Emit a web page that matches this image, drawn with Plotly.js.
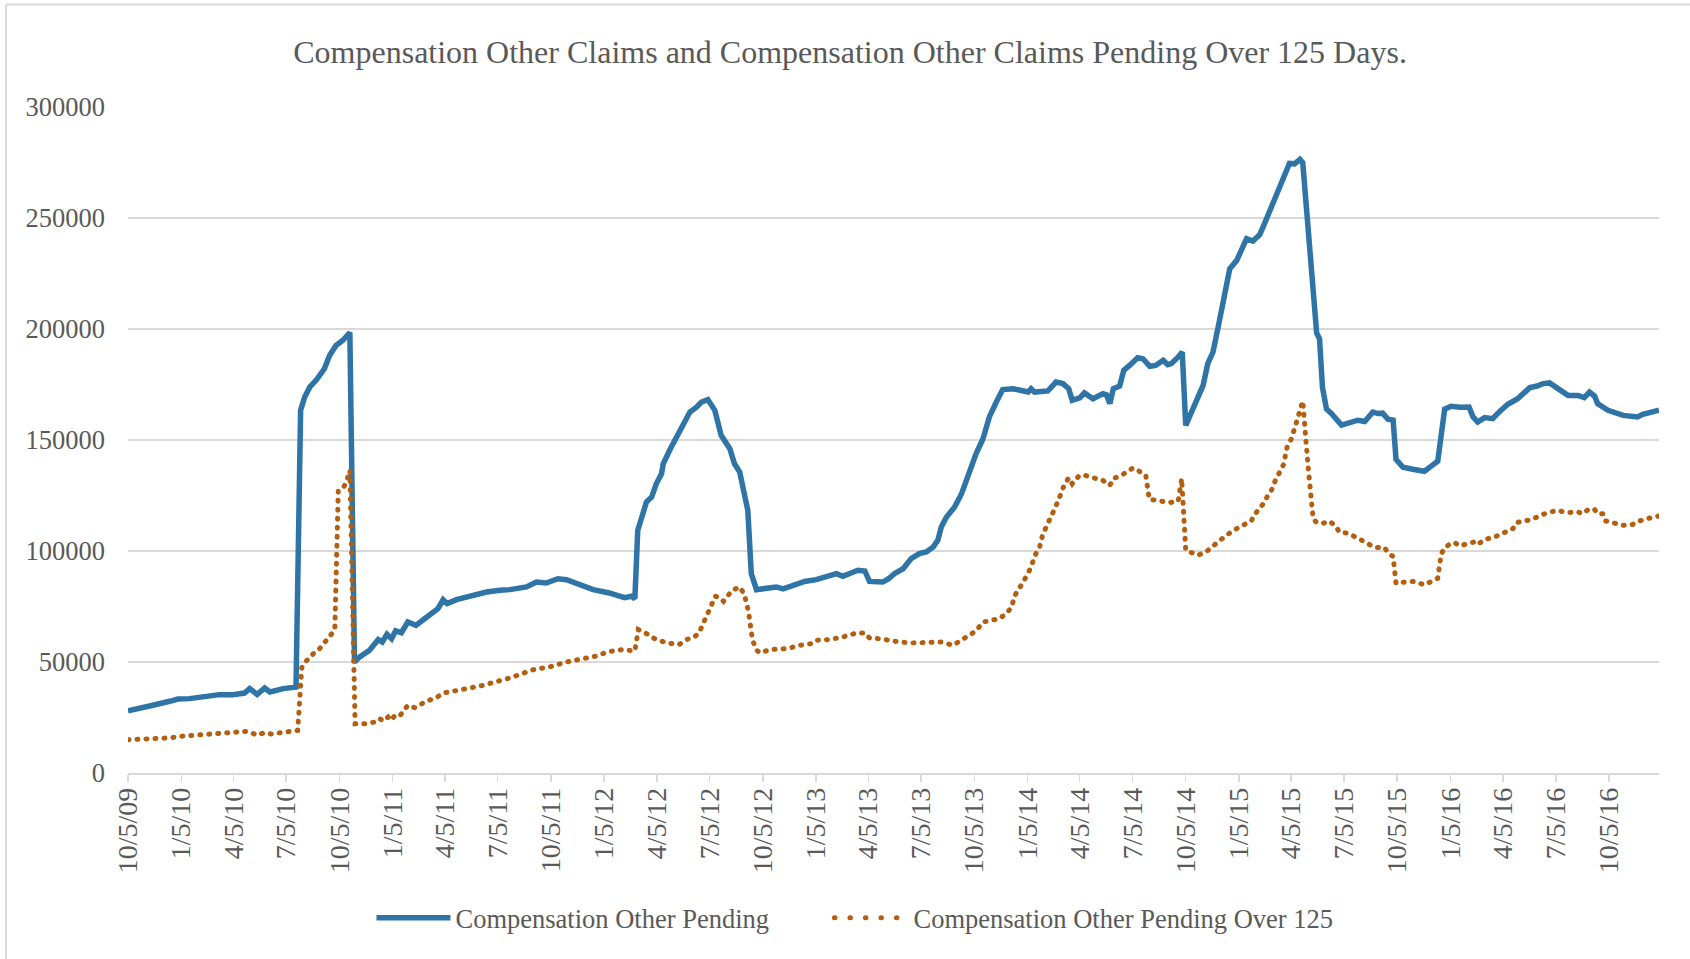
<!DOCTYPE html>
<html>
<head>
<meta charset="utf-8">
<script src="https://cdn.plot.ly/plotly-3.0.1.min.js"></script>
<style>
  html, body { margin: 0; padding: 0; background: #ffffff; }
  #chart { width: 1690px; height: 959px; }
</style>
</head>
<body>
<div id="chart"></div>
<script>
const chartTitle = 'Compensation Other Claims and Compensation Other Claims Pending Over 125 Days.';
const seriesNames = ['Compensation Other Pending', 'Compensation Other Pending Over 125'];

const pendingDates = [
'2009-10-05','2009-10-25','2009-11-17','2009-12-16','2009-12-30',
'2010-01-19','2010-02-11','2010-03-12','2010-04-04','2010-04-24',
'2010-05-03','2010-05-16','2010-05-29','2010-06-07','2010-06-30',
'2010-07-22','2010-07-30','2010-08-06','2010-08-15','2010-08-26',
'2010-09-09','2010-09-18','2010-09-29','2010-10-11','2010-10-23',
'2010-10-31','2010-11-09','2010-11-26','2010-12-11','2010-12-18',
'2010-12-26','2011-01-03','2011-01-10','2011-01-20','2011-01-31',
'2011-02-14','2011-03-01','2011-03-24','2011-04-02','2011-04-09',
'2011-04-25','2011-05-18','2011-06-16','2011-07-09','2011-07-26',
'2011-08-24','2011-09-10','2011-09-27','2011-10-17','2011-11-01',
'2011-11-24','2011-12-17','2012-01-14','2012-02-09','2012-02-21',
'2012-02-27','2012-03-03','2012-03-09','2012-03-18','2012-03-27',
'2012-04-04','2012-04-13','2012-04-16','2012-04-27','2012-05-09',
'2012-05-20','2012-06-01','2012-06-12','2012-06-21','2012-07-02',
'2012-07-14','2012-07-25','2012-08-09','2012-08-17','2012-08-26',
'2012-09-09','2012-09-15','2012-09-24','2012-10-11','2012-10-28',
'2012-11-09','2012-12-02','2012-12-16','2013-01-05','2013-01-23',
'2013-02-09','2013-02-20','2013-03-18','2013-03-30','2013-04-07',
'2013-04-30','2013-05-10','2013-05-20','2013-06-04','2013-06-18',
'2013-07-02','2013-07-14','2013-07-26','2013-08-03','2013-08-09',
'2013-08-18','2013-09-01','2013-09-13','2013-09-24','2013-10-08',
'2013-10-20','2013-10-31','2013-11-12','2013-11-23','2013-12-11',
'2013-12-28','2014-01-06','2014-01-11','2014-01-17','2014-02-09',
'2014-02-23','2014-03-07','2014-03-17','2014-03-23','2014-04-05',
'2014-04-13','2014-04-28','2014-05-15','2014-05-21','2014-05-27',
'2014-06-02','2014-06-13','2014-06-20','2014-06-30','2014-07-14',
'2014-07-23','2014-08-04','2014-08-14','2014-08-27','2014-09-04',
'2014-09-10','2014-09-22','2014-09-29','2014-10-05','2014-10-15',
'2014-10-26','2014-11-04','2014-11-12','2014-11-21','2014-11-30',
'2014-12-11','2014-12-20','2015-01-01','2015-01-09','2015-01-18',
'2015-01-29','2015-02-10','2015-02-18','2015-03-01','2015-03-13',
'2015-03-22','2015-04-02','2015-04-11','2015-04-20','2015-04-25',
'2015-05-04','2015-05-13','2015-05-19','2015-05-24','2015-05-29',
'2015-06-05','2015-06-13','2015-07-01','2015-07-15','2015-07-29',
'2015-08-10','2015-08-24','2015-09-02','2015-09-10','2015-09-19',
'2015-09-28','2015-10-03','2015-10-15','2015-11-01','2015-11-21',
'2015-11-30','2015-12-14','2015-12-26','2016-01-06','2016-01-21',
'2016-02-06','2016-02-13','2016-02-21','2016-03-04','2016-03-18',
'2016-03-30','2016-04-13','2016-04-30','2016-05-21','2016-06-01',
'2016-06-13','2016-06-24','2016-07-06','2016-07-17','2016-07-26',
'2016-08-12','2016-08-23','2016-09-01','2016-09-10','2016-09-15',
'2016-09-24','2016-10-03','2016-10-29','2016-11-23','2016-12-02',
'2016-12-17','2016-12-30'
];
const pendingValues = [
28000,29400,30500,32300,33300,
33500,34500,35300,35300,36000,
38000,35400,38300,36500,38000,
38700,163400,169400,173900,177000,
182100,188100,192600,194900,198400,
50000,52300,55300,60100,59000,
62500,60500,64000,63200,68000,
66500,69500,74000,78100,76300,
78100,79700,81500,82300,82600,
83800,86000,85600,87500,87100,
85000,82600,81100,79000,79600,
78500,109300,115300,122100,124300,
130300,134800,139300,145400,151400,
157400,162600,164700,167100,168200,
163400,152100,146100,139300,135600,
118300,89800,82600,83000,83800,
82900,84800,86300,87100,88300,
89800,88600,91300,91000,86300,
86000,87500,89800,92000,96600,
98800,99600,101800,104800,110800,
115300,119800,125800,134100,143800,
150600,160400,167100,172700,173100,
172400,171600,173100,171600,172100,
176100,175400,173100,167900,169000,
171200,168600,170900,170400,166400,
173100,174300,181400,183600,187100,
186600,183200,183600,185900,183900,
184400,187400,189600,156600,162600,
167900,174600,184400,189600,200900,
214400,227200,230900,236200,240700,
239600,242600,247500,254500,261400,
268600,274600,274400,276400,274900,
244200,217200,198200,195500,173800,
163900,162100,156700,157600,158900,
158300,162600,161900,162100,159400,
159000,141300,137700,136800,135900,
137700,140400,163900,165200,164800,
164900,160400,158100,160100,159600,
162900,166100,168600,173600,174200,
175400,175700,173600,172100,170100,
170100,169100,171600,169700,166400,
165200,163400,161100,160400,161600,
162300,163400
];

const over125Dates = [
'2009-10-05','2009-11-17','2009-12-16','2010-01-02','2010-02-11',
'2010-03-12','2010-04-10','2010-04-30','2010-05-16','2010-05-29',
'2010-06-09','2010-06-30','2010-07-25','2010-08-01','2010-08-08',
'2010-08-15','2010-08-21','2010-08-29','2010-09-09','2010-09-22',
'2010-09-27','2010-10-03','2010-10-11','2010-10-17','2010-10-23',
'2010-11-01','2010-11-20','2010-12-05','2010-12-13','2010-12-20',
'2010-12-28','2011-01-02','2011-01-10','2011-01-18','2011-01-31',
'2011-02-12','2011-03-04','2011-03-21','2011-04-02','2011-04-25',
'2011-05-18','2011-06-10','2011-07-03','2011-07-26','2011-09-04',
'2011-10-03','2011-11-01','2011-11-29','2011-12-28','2012-01-09',
'2012-02-06','2012-02-27','2012-03-04','2012-03-18','2012-04-01',
'2012-04-21','2012-05-13','2012-05-26','2012-06-01','2012-06-09',
'2012-06-17','2012-06-25','2012-07-02','2012-07-08','2012-07-15',
'2012-07-22','2012-07-29','2012-08-06','2012-08-13','2012-08-26',
'2012-09-03','2012-09-10','2012-09-17','2012-09-24','2012-10-01',
'2012-10-17','2012-11-15','2012-12-08','2012-12-28','2013-01-05',
'2013-01-28','2013-02-20','2013-03-16','2013-03-30','2013-04-07',
'2013-04-24','2013-05-12','2013-05-29','2013-06-21','2013-07-14',
'2013-08-09','2013-08-29','2013-09-13','2013-09-24','2013-10-08',
'2013-10-20','2013-11-03','2013-11-17','2013-11-29','2013-12-08',
'2013-12-14','2013-12-22','2013-12-29','2014-01-06','2014-01-11',
'2014-01-17','2014-01-26','2014-01-31','2014-02-09','2014-02-17',
'2014-02-23','2014-03-02','2014-03-09','2014-03-17','2014-03-23',
'2014-03-30','2014-04-05','2014-04-13','2014-04-28','2014-05-15',
'2014-05-27','2014-06-02','2014-06-16','2014-06-24','2014-07-06',
'2014-07-17','2014-07-28','2014-08-03','2014-08-21','2014-09-07',
'2014-09-22','2014-09-28','2014-10-05','2014-10-12','2014-10-26',
'2014-11-09','2014-11-26','2014-12-14','2015-01-01','2015-01-11',
'2015-01-26','2015-02-01','2015-02-10','2015-02-18','2015-02-22',
'2015-03-02','2015-03-08','2015-03-16','2015-03-23','2015-03-29',
'2015-04-05','2015-04-12','2015-04-19','2015-04-25','2015-05-04',
'2015-05-13','2015-05-19','2015-05-30','2015-06-10','2015-06-21',
'2015-06-27','2015-07-12','2015-07-29','2015-08-12','2015-08-27',
'2015-09-13','2015-09-19','2015-09-28','2015-10-03','2015-10-15',
'2015-11-01','2015-11-21','2015-12-03','2015-12-14','2015-12-20',
'2015-12-26','2016-01-04','2016-01-12','2016-01-21','2016-02-01',
'2016-02-15','2016-02-21','2016-03-04','2016-03-18','2016-03-30',
'2016-04-10','2016-04-22','2016-04-28','2016-05-15','2016-05-26',
'2016-06-04','2016-06-21','2016-07-08','2016-07-23','2016-08-12',
'2016-08-20','2016-09-01','2016-09-10','2016-09-15','2016-09-24',
'2016-09-29','2016-10-11','2016-10-29','2016-11-14','2016-11-26',
'2016-12-10','2016-12-30'
];
const over125Values = [
15000,15300,15800,16500,17300,
17700,18000,18800,17000,18200,
17600,18200,19200,47500,50300,
52000,53800,55100,59000,62800,
64300,127000,128100,131100,136300,
22200,22200,23000,24500,23400,
25200,23700,26300,26000,30500,
29400,32300,33900,36000,36900,
38300,39500,41000,42800,46500,
47800,50000,51500,53000,54500,
55600,55000,64600,62800,60500,
58700,57800,60100,60800,61300,
63300,68000,71800,76300,79600,
79000,77300,80000,82300,83800,
80500,73000,60000,55300,54100,
55600,56000,57500,58300,59800,
60100,61300,63100,63100,60800,
60500,59500,59000,58600,58600,
59000,57500,59800,62000,64000,
68000,68800,69500,71800,74500,
80000,83000,86300,90100,92800,
97600,102100,107400,112000,116100,
120300,124800,129600,133000,130300,
132600,134100,134100,132900,131800,
129600,132600,134100,135600,137400,
135900,134100,123300,122500,121800,
122500,132600,100300,99600,98100,
99600,103300,107100,110100,111600,
113500,116400,119200,122000,124200,
127300,131400,135900,139000,146800,
150400,156100,162100,167500,138600,
114500,112800,112500,113400,111200,
108500,108000,105800,104000,101600,
101600,99300,97500,85400,85900,
86300,84800,86300,87700,98600,
101600,103100,103800,102300,103300,
104100,102900,105300,105900,107500,
108600,110100,112800,113500,114300,
115600,117300,118300,117300,117600,
116800,119100,118600,116800,116800,
113500,112600,111600,111900,113500,
114600,115800
];

const xRange = ['2009-10-05', '2016-12-30'];
const yRange = [0, 300000];

const FONT = '"Liberation Serif", "Times New Roman", Times, serif';
const TEXT = '#595959';
const GRID = '#d9d9d9';
const BLUE = '#2E74A6';
const ORANGE = '#B45F10';

// plot-area geometry (px) used to place the outer chart border
const L = 128, R = 31, T = 107, B = 186, W = 1690, H = 959;
const pw = W - L - R, ph = H - T - B;
const px2x = p => (p - L) / pw;
const py2y = p => (H - B - p) / ph;

const traces = [
  {
    type: 'scatter', mode: 'lines', name: seriesNames[0],
    x: pendingDates, y: pendingValues,
    line: { color: BLUE, width: 5.5, shape: 'linear' },
    legend: 'legend',
    hoverinfo: 'skip'
  },
  {
    type: 'scatter', mode: 'lines', name: seriesNames[1],
    x: over125Dates, y: over125Values,
    line: { color: ORANGE, width: 5, dash: '1px,8px', shape: 'linear' },
    legend: 'legend2',
    hoverinfo: 'skip'
  }
];

const legendBase = {
  orientation: 'h',
  xref: 'container', yref: 'container',
  xanchor: 'left', y: 1 - 918 / H, yanchor: 'middle',
  font: { family: FONT, size: 26.5, color: TEXT },
  itemwidth: 74,
  bgcolor: 'rgba(0,0,0,0)'
};

const layout = {
  width: W, height: H,
  margin: { l: L, r: R, t: T, b: B, pad: 0 },
  paper_bgcolor: '#ffffff', plot_bgcolor: '#ffffff',
  font: { family: FONT, color: TEXT, size: 26 },
  title: {
    text: chartTitle,
    font: { family: FONT, size: 32, color: TEXT },
    xref: 'container', yref: 'container',
    x: 0.503, xanchor: 'center', y: 1 - 52 / H, yanchor: 'middle'
  },
  showlegend: true,
  legend: Object.assign({}, legendBase, { x: 0.2198 }),
  legend2: Object.assign({}, legendBase, { x: 0.4908 }),
  xaxis: {
    type: 'date',
    range: xRange,
    tick0: '2009-10-05', dtick: 'M3',
    tickformat: '%-m/%-d/%y',
    tickangle: -90,
    tickfont: { family: FONT, size: 28, color: TEXT },
    showgrid: false, zeroline: false,
    showline: true, linecolor: GRID, linewidth: 1.5,
    ticks: 'outside', ticklen: 7, tickwidth: 1.5, tickcolor: GRID,
    ticklabelstandoff: -5,
    automargin: false, fixedrange: true
  },
  yaxis: {
    range: yRange,
    tick0: 0, dtick: 50000,
    tickformat: 'd',
    tickfont: { family: FONT, size: 26.5, color: TEXT },
    showgrid: true, gridcolor: GRID, gridwidth: 1.5,
    zeroline: false, showline: false, ticks: '',
    ticklabelstandoff: 22,
    automargin: false, fixedrange: true
  },
  shapes: [
    { type: 'line', xref: 'paper', yref: 'paper', layer: 'below',
      x0: px2x(6), x1: px2x(6), y0: py2y(4.5), y1: py2y(970),
      line: { color: GRID, width: 2 } },
    { type: 'line', xref: 'paper', yref: 'paper', layer: 'below',
      x0: px2x(6), x1: px2x(1700), y0: py2y(4.5), y1: py2y(4.5),
      line: { color: GRID, width: 2 } }
  ]
};

Plotly.newPlot('chart', traces, layout, { staticPlot: true, displayModeBar: false }).then(gd => {
  // give the dotted series round dots, like the original
  const tr = gd.querySelectorAll('.scatterlayer .trace');
  if (tr[1]) tr[1].querySelectorAll('path.js-line').forEach(p => { p.style.strokeLinecap = 'round'; });
  const lg2 = gd.querySelector('.legend2') || gd.querySelectorAll('g.legend')[1];
  if (lg2) lg2.querySelectorAll('path.js-line').forEach(p => {
    p.style.strokeLinecap = 'round';
    p.style.strokeDasharray = '0.5px,15px';
  });
});
</script>
</body>
</html>
